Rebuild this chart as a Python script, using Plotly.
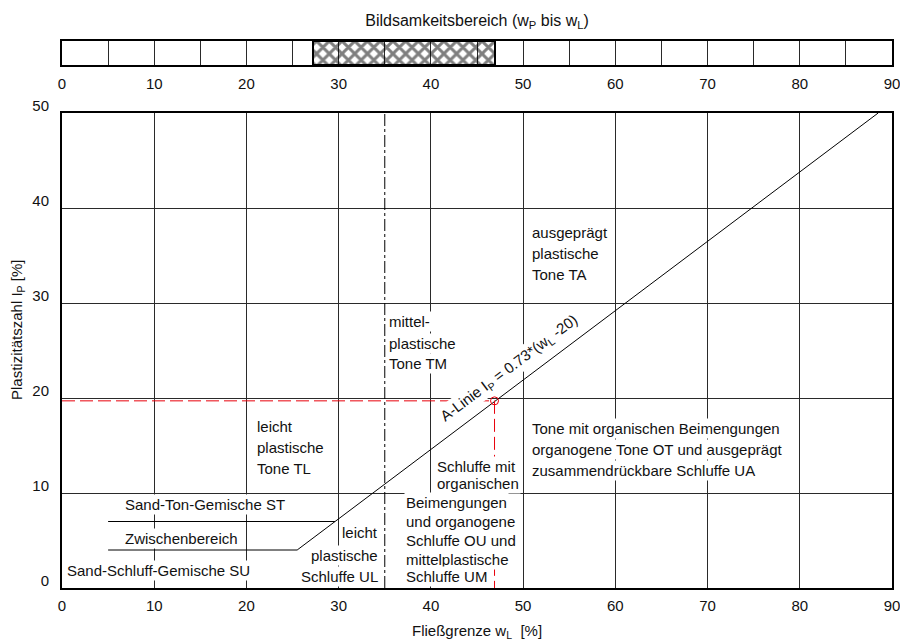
import plotly.graph_objects as go

# ---------------- data ----------------
x_tick_vals = [0, 10, 20, 30, 40, 50, 60, 70, 80, 90]
y_tick_vals = [0, 10, 20, 30, 40, 50]
bar_divider_step = 5

w_P = 27.2          # Ausrollgrenze
w_L = 46.9          # Fließgrenze
I_P = 19.7          # Plastizitätszahl

a_line_w = [25.5, 88.5]
a_line_ip = [4.0, 50.0]
st_line_w = [5.0, 29.6]
st_line_ip = [7.0, 7.0]
su_line_w = [5.0, 25.5]
su_line_ip = [4.0, 4.0]
tm_border_w = [35.0, 35.0]
tm_border_ip = [0.0, 50.0]

FONT = "Liberation Sans, Arial, sans-serif"
FS = 15

fig = go.Figure()

# hatched range in top bar
fig.add_trace(go.Bar(
    x=[w_L - w_P], base=[w_P], y=[0.5], width=[1.0], orientation="h",
    marker=dict(color="rgba(255,255,255,0)",
                line=dict(color="black", width=2),
                pattern=dict(shape="x", fgcolor="black", bgcolor="rgba(255,255,255,0)",
                             size=9, solidity=0.55)),
    xaxis="x2", yaxis="y2", showlegend=False, hoverinfo="skip"))

line_style = dict(color="black", width=1)
fig.add_trace(go.Scatter(x=a_line_w, y=a_line_ip, mode="lines", line=line_style,
                         showlegend=False, hoverinfo="skip"))
fig.add_trace(go.Scatter(x=st_line_w, y=st_line_ip, mode="lines", line=line_style,
                         showlegend=False, hoverinfo="skip"))
fig.add_trace(go.Scatter(x=su_line_w, y=su_line_ip, mode="lines", line=line_style,
                         showlegend=False, hoverinfo="skip"))
fig.add_trace(go.Scatter(x=tm_border_w, y=tm_border_ip, mode="lines",
                         line=dict(color="black", width=1, dash="12px,3px,3px,3px"),
                         showlegend=False, hoverinfo="skip"))

red = "#e8000b"
fig.add_trace(go.Scatter(x=[0, w_L], y=[I_P, I_P], mode="lines",
                         line=dict(color=red, width=1, dash="13px,5px"),
                         showlegend=False, hoverinfo="skip"))
fig.add_trace(go.Scatter(x=[w_L, w_L], y=[I_P, 0], mode="lines",
                         line=dict(color=red, width=1, dash="13px,5px"),
                         showlegend=False, hoverinfo="skip"))
fig.add_trace(go.Scatter(x=[w_L], y=[I_P], mode="markers",
                         marker=dict(symbol="circle-open", size=8, color=red,
                                     line=dict(width=1, color=red)),
                         showlegend=False, hoverinfo="skip"))

# ---------------- text blocks ----------------
ann = []


def add_lines(lines, x, ys, anchor="left"):
    for t, y in zip(lines, ys):
        ann.append(dict(text=t, x=x, y=y, xref="x", yref="y", showarrow=False,
                        xanchor=anchor, yanchor="middle", bgcolor="white",
                        borderpad=1, font=dict(family=FONT, size=FS, color="#111")))


add_lines(["ausgeprägt", "plastische", "Tone TA"], 50.75, [37.47, 35.26, 32.95])
add_lines(["mittel-", "plastische", "Tone TM"], 35.25, [28.03, 25.79, 23.58])
add_lines(["leicht", "plastische", "Tone TL"], 20.93, [16.95, 14.74, 12.53])
add_lines(["Tone mit organischen Beimengungen",
           "organogene Tone OT und ausgeprägt",
           "zusammendrückbare Schluffe UA"], 50.75, [16.84, 14.63, 12.42])
add_lines(["Schluffe mit", "organischen"], 40.45, [12.84, 10.95])
add_lines(["Beimengungen", "und organogene", "Schluffe OU und",
           "mittelplastische", "Schluffe UM"], 37.05, [8.98, 6.98, 5.05, 3.05, 1.2])
add_lines(["leicht", "plastische", "Schluffe UL"], 34.5, [5.89, 3.47, 1.2], anchor="right")
add_lines(["Sand-Ton-Gemische ST"], 6.62, [8.74])
add_lines(["Zwischenbereich"], 6.62, [5.26])
add_lines(["Sand-Schluff-Gemische SU"], 0.36, [1.89])

ann.append(dict(text="A-Linie I<sub>P</sub> = 0.73*(w<sub>L</sub> -20)",
                x=48.5, y=23.1, xref="x", yref="y", showarrow=False,
                xanchor="center", yanchor="middle", textangle=-36.9,
                bgcolor="white", borderpad=1,
                font=dict(family=FONT, size=FS, color="#111")))

ann.append(dict(text="Fließgrenze w<sub>L</sub>  [%]", x=0.5, y=-0.0804,
                xref="paper", yref="paper", showarrow=False,
                xanchor="center", yanchor="middle",
                font=dict(family=FONT, size=FS, color="#111")))
ann.append(dict(text="Plastizitätszahl I<sub>P</sub> [%]", x=-0.053, y=0.4717,
                xref="paper", yref="paper", showarrow=False, textangle=-90,
                xanchor="center", yanchor="middle",
                font=dict(family=FONT, size=FS, color="#111")))

grid_col = "#2a2a2a"

fig.update_layout(
    width=900, height=642,
    margin=dict(l=62, r=8, t=41, b=54, autoexpand=False),
    paper_bgcolor="white", plot_bgcolor="white",
    font=dict(family=FONT, size=FS, color="#111"),
    title=dict(text="Bildsamkeitsbereich (w<sub>P</sub> bis w<sub>L</sub>)",
               x=(477 / 900), xanchor="center", y=1 - 20 / 642, yanchor="middle",
               font=dict(family=FONT, size=16, color="#111")),
    annotations=ann,
    xaxis=dict(domain=[0, 1], range=[0, 90], tickvals=x_tick_vals, automargin=False,
               ticklabeloverflow="allow",
               showgrid=True, gridcolor=grid_col, gridwidth=1, zeroline=False,
               showline=True, linecolor="black", linewidth=2, mirror=True,
               ticks="", ticklabelstandoff=3, anchor="y",
               tickfont=dict(family=FONT, size=FS, color="#111")),
    yaxis=dict(domain=[0, 475 / 547], range=[0, 50], tickvals=y_tick_vals, automargin=False,
               ticklabeloverflow="allow",
               showgrid=True, gridcolor=grid_col, gridwidth=1, zeroline=False,
               showline=True, linecolor="black", linewidth=2, mirror=True,
               ticks="", ticklabelstandoff=8, ticklabelshift=-7, anchor="x",
               tickfont=dict(family=FONT, size=FS, color="#111")),
    xaxis2=dict(domain=[0, 1], range=[0, 90], tickvals=x_tick_vals, automargin=False,
                ticklabeloverflow="allow",
                showgrid=True, gridcolor=grid_col, gridwidth=1, zeroline=False,
                minor=dict(dtick=bar_divider_step, showgrid=True, gridcolor=grid_col,
                           gridwidth=1, ticks=""),
                showline=True, linecolor="black", linewidth=2, mirror=True,
                ticks="", ticklabelstandoff=4, anchor="y2",
                tickfont=dict(family=FONT, size=FS, color="#111")),
    yaxis2=dict(domain=[(588 - 65) / 547, 1], range=[0, 1], showgrid=False,
                zeroline=False, showticklabels=False, ticks="", automargin=False,
                showline=True, linecolor="black", linewidth=1.5, mirror=True,
                anchor="x2"),
    bargap=0,
)

fig.write_html("out.html")
